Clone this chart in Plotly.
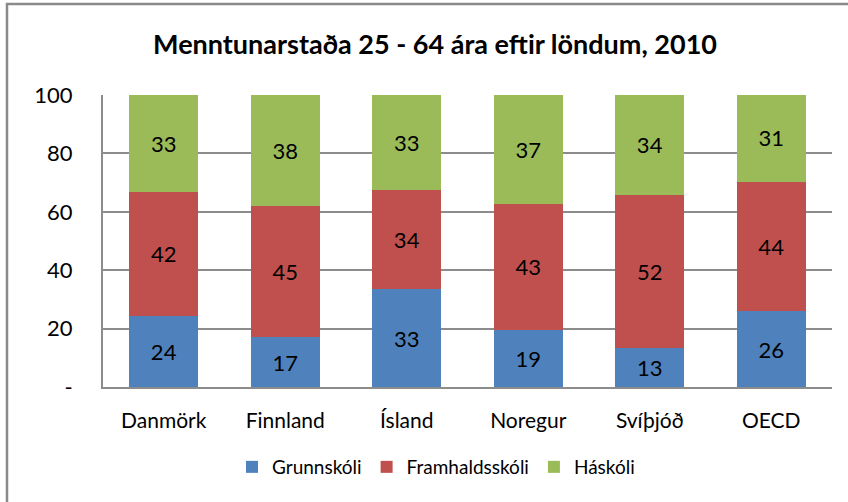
import plotly.graph_objects as go

categories = ["Danmörk", "Finnland", "Ísland", "Noregur", "Svíþjóð", "OECD"]
grunnskoli = [24.4, 17.0, 33.4, 19.4, 13.4, 26.0]
framhaldsskoli = [42.4, 45.0, 34.0, 43.4, 52.4, 44.2]
haskoli = [33.2, 38.0, 32.6, 37.2, 34.2, 30.6]
series_names = ["Grunnskóli", "Framhaldsskóli", "Háskóli"]
colors = ["#4F81BD", "#C0504D", "#9BBB59"]
tick_vals = [0, 20, 40, 60, 80, 100]
tick_text = ["-", "20", "40", "60", "80", "100"]
title = "Menntunarstaða 25 - 64 ára eftir löndum, 2010"

FONT = "Lato, 'Open Sans', sans-serif"
W, H = 848, 502
L, R, T, B = 103, 832, 95, 387

fig = go.Figure()
for name, vals, col in zip(series_names, [grunnskoli, framhaldsskoli, haskoli], colors):
    fig.add_trace(go.Bar(
        x=categories, y=vals, name=name,
        marker=dict(color=col, line=dict(width=0)),
        texttemplate="%{y:.0f}", textposition="inside", insidetextanchor="middle",
        textfont=dict(family=FONT, size=22, color="black"),
        constraintext="none", cliponaxis=True,
    ))

fig.update_layout(
    width=W, height=H,
    barmode="stack", bargap=0.43,
    plot_bgcolor="white", paper_bgcolor="white",
    margin=dict(l=L, r=W - R, t=T, b=H - B, pad=0),
    font=dict(family=FONT, size=20, color="black"),
    title=dict(text="<b>" + title + "</b>", x=435 / W, xanchor="center", xref="container",
               y=1 - 45 / H, yanchor="middle", yref="container",
               font=dict(family=FONT, size=27, color="black")),
    showlegend=True,
    legend=dict(orientation="h", x=436 / W, xanchor="center", xref="container",
                y=1 - 467 / H, yanchor="middle", yref="container",
                font=dict(family=FONT, size=19, color="black"),
                itemwidth=30, tracegroupgap=0, traceorder="normal"),
    uniformtext=dict(mode=False),
)
fig.update_xaxes(showgrid=False, showline=True, linecolor="#8c8c8c", linewidth=2,
                 ticks="", tickfont=dict(family=FONT, size=21, color="black"),
                 ticklabelstandoff=14)
fig.update_yaxes(range=[0, 100], tickvals=tick_vals, ticktext=tick_text,
                 showgrid=True, gridcolor="#8c8c8c", gridwidth=2,
                 showline=True, linecolor="#8c8c8c", linewidth=2,
                 zeroline=False, ticks="", ticklabelstandoff=24,
                 tickfont=dict(family=FONT, size=22, color="black"))
# chart-area border (left & top visible)
fig.add_shape(type="rect", xref="paper", yref="paper",
              x0=(7 - L) / (R - L), x1=(W + 20 - L) / (R - L),
              y0=(B - (H + 20)) / (B - T), y1=(B - 4) / (B - T),
              line=dict(color="#8a8a8a", width=2.5), fillcolor="rgba(0,0,0,0)", layer="above")

fig.write_html("out.html", config={"displayModeBar": False},
               post_script="document.body.style.margin='0';document.body.style.overflow='hidden';")
